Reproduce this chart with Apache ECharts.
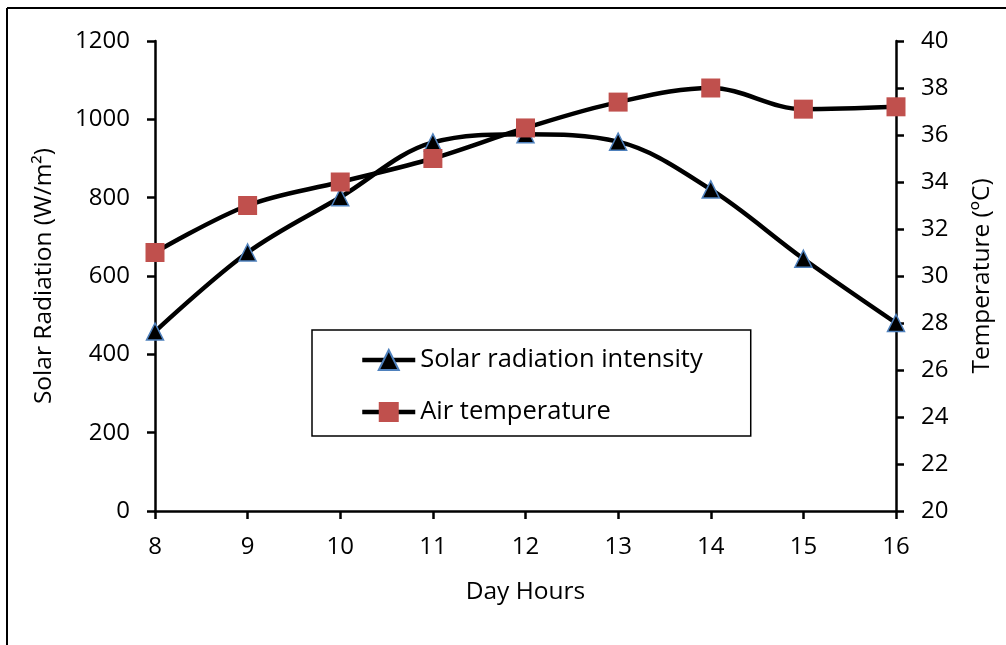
<!DOCTYPE html>
<html>
<head>
<meta charset="utf-8">
<script src="https://cdn.jsdelivr.net/npm/echarts@6/dist/echarts.min.js"></script>
<style>
  html, body { margin: 0; padding: 0; background: #fff; }
  #chart { width: 1006px; height: 645px; }
</style>
</head>
<body>
<div id="chart"></div>
<script>
// Hours of the day (x axis)
const hours = ['8', '9', '10', '11', '12', '13', '14', '15', '16'];
// Solar radiation intensity, W/m²
const solarRadiation = [458, 660, 801, 941, 962, 943, 821, 644, 480];
// Air temperature, °C
const airTemperature = [31.0, 33.0, 34.0, 35.0, 36.3, 37.4, 38.0, 37.1, 37.2];

const FONT = '"Open Sans", "Noto Sans", sans-serif';
const axisLine = { show: true, lineStyle: { color: '#000', width: 2.5 } };
const axisTick = { show: true, inside: false, length: 8, lineStyle: { color: '#000', width: 2.5 } };
const tickLabel = { color: '#000', fontFamily: FONT, fontSize: 24, margin: 25 };
const nameStyle = { color: '#000', fontFamily: FONT, fontSize: 24.5 };

const chart = echarts.init(document.getElementById('chart'), null, { renderer: 'canvas' });
chart.setOption({
  backgroundColor: '#fff',
  animation: false,
  grid: { left: 155, right: 110, top: 41, bottom: 134, containLabel: false },
  graphic: [
    { type: 'line', shape: { x1: 7, y1: 8, x2: 1006, y2: 8 }, style: { stroke: '#000', lineWidth: 2 } },
    { type: 'line', shape: { x1: 7, y1: 8, x2: 7, y2: 645 }, style: { stroke: '#000', lineWidth: 2 } }
  ],
  legend: {
    orient: 'vertical',
    left: 312,
    top: 330,
    padding: [15, 48, 9, 48],
    itemGap: 22,
    itemWidth: 53,
    itemHeight: 25,
    borderColor: '#000',
    borderWidth: 1.5,
    backgroundColor: '#fff',
    lineStyle: { width: 4.5 },
    textStyle: { color: '#000', fontFamily: FONT, fontSize: 25.5, lineHeight: 30 },
    data: ['Solar radiation intensity', 'Air temperature']
  },
  xAxis: {
    type: 'category',
    data: hours,
    boundaryGap: false,
    name: 'Day Hours',
    nameLocation: 'middle',
    nameGap: 69,
    nameTextStyle: nameStyle,
    axisLine: axisLine,
    axisTick: { ...axisTick, alignWithLabel: true },
    axisLabel: { ...tickLabel, margin: 24 },
    splitLine: { show: false }
  },
  yAxis: [
    {
      type: 'value',
      min: 0, max: 1200, interval: 200,
      position: 'left',
      name: 'Solar Radiation (W/m²)',
      nameLocation: 'middle',
      nameGap: 98,
      nameRotate: 90,
      nameTextStyle: nameStyle,
      axisLine: axisLine,
      axisTick: axisTick,
      axisLabel: { ...tickLabel, formatter: v => String(v) },
      splitLine: { show: false }
    },
    {
      type: 'value',
      min: 20, max: 40, interval: 2,
      position: 'right',
      name: 'Temperature (ºC)',
      nameLocation: 'middle',
      nameGap: 74,
      nameRotate: 90,
      nameTextStyle: nameStyle,
      axisLine: axisLine,
      axisTick: axisTick,
      axisLabel: tickLabel,
      splitLine: { show: false }
    }
  ],
  series: [
    {
      name: 'Solar radiation intensity',
      type: 'line',
      yAxisIndex: 0,
      data: solarRadiation,
      smooth: 0.35,
      symbol: 'triangle',
      symbolSize: 17,
      lineStyle: { color: '#000', width: 4.5 },
      itemStyle: { color: '#000', borderColor: '#4f81bd', borderWidth: 1.5 },
      z: 3
    },
    {
      name: 'Air temperature',
      type: 'line',
      yAxisIndex: 1,
      data: airTemperature,
      smooth: 0.35,
      symbol: 'rect',
      symbolSize: 19,
      lineStyle: { color: '#000', width: 4.5 },
      itemStyle: { color: '#c0504d', borderColor: '#c0504d', borderWidth: 0 },
      z: 4
    }
  ]
});
</script>
</body>
</html>
